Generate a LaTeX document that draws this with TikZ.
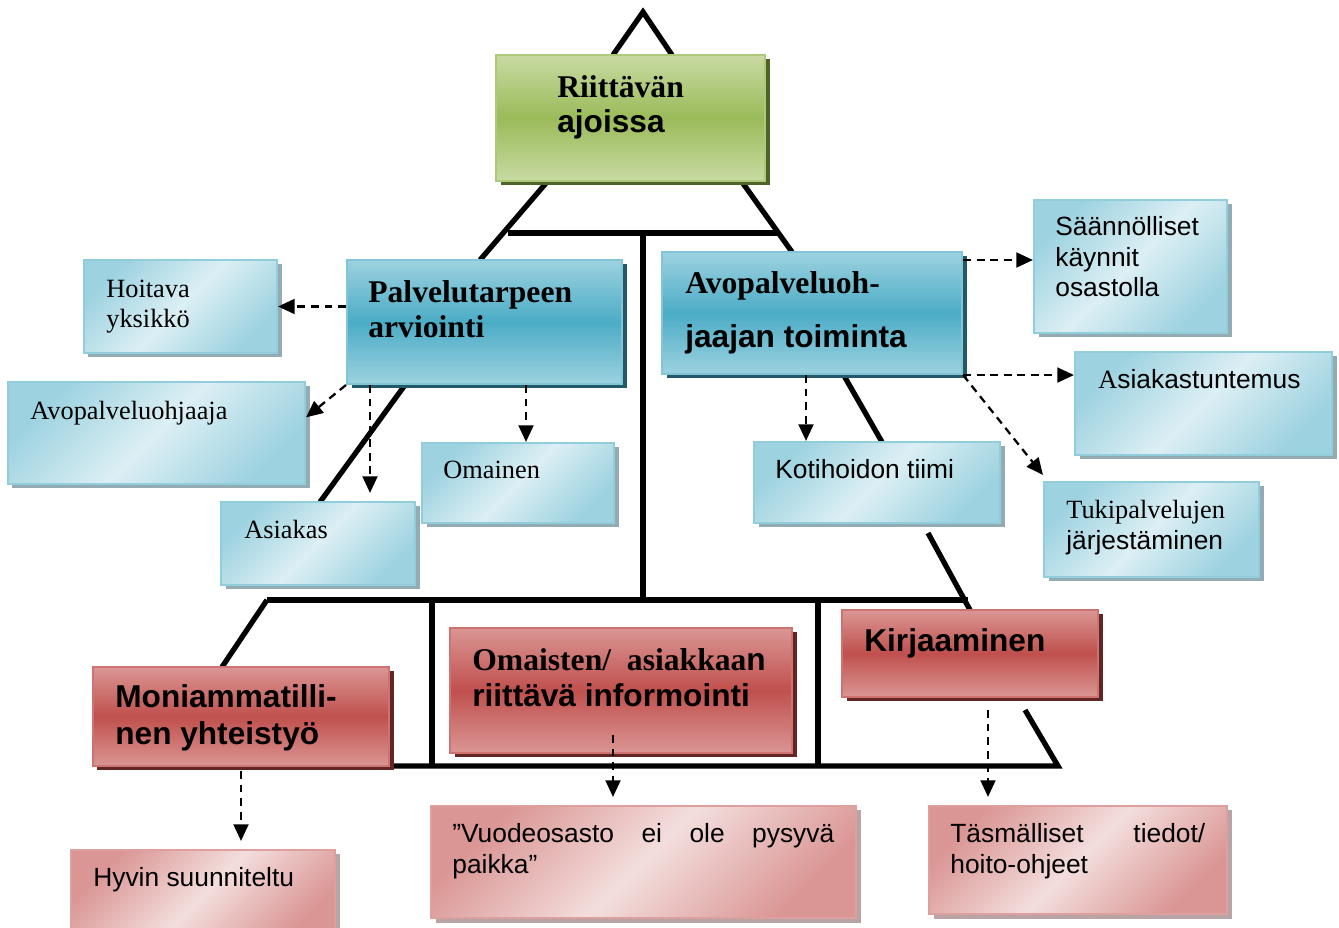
\documentclass[tikz,border=0pt]{standalone}
\usepackage{fontspec}
\setmainfont{Liberation Serif}
\newfontfamily\tms{Liberation Serif}
\newfontfamily\ars{Liberation Sans}
\usetikzlibrary{arrows.meta,calc,fit,shadows}

\definecolor{vihrea}{HTML}{9BBB59}
\definecolor{vihreavaal}{HTML}{C8DAA3}
\definecolor{vihreavarjo}{HTML}{4F6228}
\definecolor{sininen}{HTML}{4BACC6}
\definecolor{sinvaal}{HTML}{9DD2E0}
\definecolor{sinvarjo}{HTML}{215968}
\definecolor{sinhyvin}{HTML}{DCEFF4}
\definecolor{sinreuna}{HTML}{92CDDC}
\definecolor{sinharmaa}{HTML}{93ABB3}
\definecolor{punainen}{HTML}{C0504D}
\definecolor{punvaal}{HTML}{DA9694}
\definecolor{punvarjo}{HTML}{632523}
\definecolor{punhyvin}{HTML}{F3DEDD}
\definecolor{punharmaa}{HTML}{B8A4A4}

\begin{document}
\begin{tikzpicture}[x=0.02cm,y=-0.02cm,
  kehys/.style={line width=3pt},
  nuoli/.style={line width=1.3pt,dash pattern=on 4.5pt off 3.2pt,
    -{Triangle[length=9.5pt,width=8.5pt]}},
  laatikko/.style={inner sep=0pt,line width=1.2pt},
  varjo/.style={drop shadow={shadow xshift=0.09cm,shadow yshift=-0.09cm,
    fill=#1,opacity=1}},
  otsvihrea/.style={laatikko,draw=vihrea!80!white,top color=vihreavaal,bottom color=vihreavaal,
    middle color=vihrea,varjo=vihreavarjo},
  otssin/.style={laatikko,draw=sininen!70!white,top color=sinvaal,bottom color=sinvaal,
    middle color=sininen,varjo=sinvarjo},
  otspun/.style={laatikko,draw=punainen!80!white,top color=punvaal,bottom color=punvaal,
    middle color=punainen,varjo=punvarjo},
  vaalsin/.style={laatikko,draw=sinreuna,top color=sinvaal,bottom color=sinvaal,
    middle color=sinhyvin,shading angle=45,varjo=sinharmaa},
  vaalpun/.style={laatikko,draw=punvaal!90!white,top color=punvaal,bottom color=punvaal,
    middle color=punhyvin,shading angle=45,varjo=punharmaa},
  iso/.style={inner sep=0pt,anchor=base west,align=left,
    font=\fontsize{18}{20.4}\selectfont\bfseries},
  pieni/.style={inner sep=0pt,anchor=base west,align=left,
    font=\fontsize{15}{17.6}\selectfont}]
\clip (0,0) rectangle (1339,928);
% pyramidin kehys
\coordinate (huippu) at (643,12);
\draw[kehys] (613,55) -- (huippu) -- (672,55);
\draw[kehys] (547,182) -- (480,260);
\draw[kehys] (742,182) -- (792,252);
\draw[kehys] (508,233) -- (778,233);
\draw[kehys] (643,233) -- (643,600);
\draw[kehys] (405,385) -- (320,502);
\draw[kehys] (843,374) -- (882,442);
\draw[kehys] (928,533) -- (970,610);
\draw[kehys] (267,600) -- (968,600);
\draw[kehys] (267,600) -- (222,667);
\draw[kehys] (432,600) -- (432,766);
\draw[kehys] (818,600) -- (818,766);
\draw[kehys] (389,766) -- (1058,766) -- (1025,710);

% paalaatikot
\node[fit={(496,55) (765,181)},otsvihrea] (riittava) {};
\node[fit={(347,260) (622,384)},otssin] (palvelu) {};
\node[fit={(662,252) (962,374)},otssin] (avo) {};
\node[fit={(93,667) (389,766)},otspun] (moni) {};
\node[fit={(450,628) (792,753)},otspun] (info) {};
\node[fit={(842,610) (1098,697)},otspun] (kirj) {};
% sivulaatikot
\node[fit={(84,260) (277,353)},vaalsin] (hoitava) {};
\node[fit={(8,382) (305,484)},vaalsin] (ohjaaja) {};
\node[fit={(422,443) (614,523)},vaalsin] (omainen) {};
\node[fit={(221,502) (415,585)},vaalsin] (asiakas) {};
\node[fit={(1034,200) (1227,333)},vaalsin] (kaynnit) {};
\node[fit={(1075,352) (1332,455)},vaalsin] (tuntemus) {};
\node[fit={(754,442) (1000,523)},vaalsin] (koti) {};
\node[fit={(1044,482) (1259,577)},vaalsin] (tuki) {};
\node[fit={(71,850) (335,940)},vaalpun] (hyvin) {};
\node[fit={(431,806) (856,918)},vaalpun] (vuode) {};
\node[fit={(929,806) (1227,914)},vaalpun] (tasm) {};

% tekstit (monirivisen solmun kanta = viimeinen rivi)
\node[iso] (riittava-t) at (557,133) {{\tms Riittävän}\\{\ars ajoissa}};
\node[iso] (palvelu-t) at (368,338) {{\tms Palvelutarpeen}\\{\tms arviointi}};
\node[iso] (avo-t) at (685,348) {{\tms Avopalveluoh-}\\[10.8pt]{\ars jaajan toiminta}};
\node[iso] (moni-t) at (115,745) {\ars Moniammatilli-\\[1.1pt]\ars nen yhteistyö};
\node[iso] (info-t) at (472,707) {{\tms Omaisten/~ asiakkaa}{\ars n}\\[0.6pt]{\ars riittävä informointi}};
\node[iso] (kirj-t) at (864,652) {\ars Kirjaaminen};
\node[pieni] (hoitava-t) at (106,328) {Hoitava\\yksikkö};
\node[pieni] (ohjaaja-t) at (30,420) {Avopalveluohjaaja};
\node[pieni] (omainen-t) at (443,479) {Omainen};
\node[pieni] (asiakas-t) at (244,539) {Asiakas};
\node[pieni] (kaynnit-t) at (1055,297) {\ars Säännölliset\\\ars käynnit\\\ars osastolla};
\node[pieni] (tuntemus-t) at (1098,389) {A{\ars siakastuntemus}};
\node[pieni] (koti-t) at (775,479) {\ars Kotihoidon tiimi};
\node[pieni] (tuki-t) at (1066,550) {Tukipalvelujen\\[0.5pt]{\ars järjestäminen}};
\node[pieni] (hyvin-t) at (93,886) {\ars Hyvin suunniteltu};
\node[pieni] (vuode-t) at (452,873)
  {\ars\makebox[7.64cm][s]{”Vuodeosasto ei ole pysyvä}\\\ars paikka”};
\node[pieni] (tasm-t) at (950,873)
  {\ars\makebox[5.1cm][s]{Täsmälliset tiedot/}\\\ars hoito-ohjeet};

% katkoviivanuolet
\draw[nuoli] (hoitava.east -| palvelu.west) -- (hoitava.east);
\draw[nuoli] (palvelu.south west) -- ($(ohjaaja.north east)!0.35!(ohjaaja.south east)$);
\draw[nuoli] (palvelu.south -| 370,0) -- ($(asiakas.north -| 370,0)+(0,-8)$);
\draw[nuoli] (palvelu.south -| 526,0) -- (omainen.north -| 526,0);
\draw[nuoli] (avo.east |- 0,260) -- (kaynnit.west |- 0,260);
\draw[nuoli] (avo.south east) -- (tuntemus.west |- avo.south east);
\draw[nuoli] (avo.south east) -- ($(tuki.north west)+(0,-6)$);
\draw[nuoli] (avo.south -| 806,0) -- (koti.north -| 806,0);
\draw[nuoli] ($(moni.south -| 241,0)+(0,4)$) -- ($(hyvin.north -| 241,0)+(0,-8)$);
\draw[nuoli] (613,735) -- ($(vuode.north -| 613,0)+(0,-8)$);
\draw[nuoli] ($(kirj.south -| 988,0)+(0,12)$) -- ($(tasm.north -| 988,0)+(0,-8)$);
\end{tikzpicture}
\end{document}
